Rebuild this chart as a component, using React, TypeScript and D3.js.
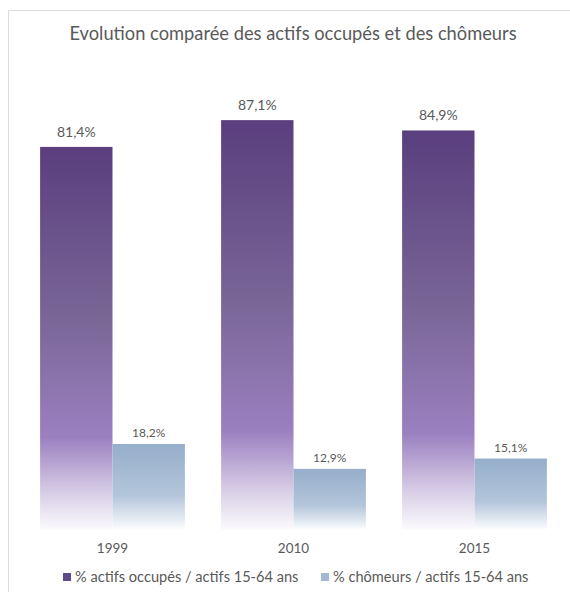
import React from "react";
import * as d3 from "d3";

const categories = ["1999", "2010", "2015"];
const seriesNames = ["% actifs occupés / actifs 15-64 ans", "% chômeurs / actifs 15-64 ans"];
const actifsOccupes = [81.4, 87.1, 84.9];
const chomeurs = [18.2, 12.9, 15.1];
const valueLabelsOccupes = ["81,4%", "87,1%", "84,9%"];
const valueLabelsChomeurs = ["18,2%", "12,9%", "15,1%"];
const title = "Evolution comparée des actifs occupés et des chômeurs";

const W = 570;
const H = 592;
const FONT = "Lato, 'Open Sans', sans-serif";
const TEXT = "#595959";

export default function App() {
  const x = d3.scaleBand<string>().domain(categories).range([22, 565]).paddingInner(0.2).paddingOuter(0.1);
  const xs = d3.scaleBand<number>().domain([0, 1]).range([0, x.bandwidth()]);
  const y = d3.scaleLinear().domain([0, 100]).range([529.5, 59.5]);
  const series = [actifsOccupes, chomeurs];
  const labels = [valueLabelsOccupes, valueLabelsChomeurs];
  const fills = ["url(#gPurple)", "url(#gBlue)"];
  const legendColors = ["#5f4a8b", "#a3b8d3"];

  return (
    <svg width={W} height={H} style={{ position: "absolute", left: 0, top: 0, fontFamily: FONT }}>
      <defs>
        <linearGradient id="gPurple" x1="0" y1="0" x2="0" y2="1">
          <stop offset="0" stopColor="#5a3e7e" />
          <stop offset="0.45" stopColor="#7a6697" />
          <stop offset="0.76" stopColor="#9b80c0" />
          <stop offset="0.9" stopColor="#d6cbe5" />
          <stop offset="1" stopColor="#fbfafd" />
        </linearGradient>
        <linearGradient id="gBlue" x1="0" y1="0" x2="0" y2="1">
          <stop offset="0" stopColor="#95aecb" />
          <stop offset="0.6" stopColor="#b3c5da" />
          <stop offset="0.85" stopColor="#dfe7f0" />
          <stop offset="1" stopColor="#fcfdfe" />
        </linearGradient>
      </defs>
      <rect x={0} y={0} width={W} height={H} fill="#fff" />
      <path d={`M8.5,${H} V10.5 H${W}`} fill="none" stroke="#dcdcdc" strokeWidth={1} />
      <text x={293} y={40} textAnchor="middle" fontSize={18.3} fill={TEXT}>{title}</text>
      {categories.map((c, i) => (
        <g key={c} transform={`translate(${x(c)},0)`}>
          {series.map((s, j) => (
            <g key={j}>
              <rect
                x={xs(j)}
                y={y(s[i])}
                width={xs.bandwidth()}
                height={y(0) - y(s[i])}
                fill={fills[j]}
              />
              <text
                x={(xs(j) as number) + xs.bandwidth() / 2}
                y={y(s[i]) - (j === 0 ? 10 : 7)}
                textAnchor="middle"
                fontSize={j === 0 ? 14 : 12}
                fill={TEXT}
              >
                {labels[j][i]}
              </text>
            </g>
          ))}
          <text x={x.bandwidth() / 2} y={553} textAnchor="middle" fontSize={13.5} fill={TEXT}>{c}</text>
        </g>
      ))}
      {seriesNames.map((n, j) => {
        const lx = j === 0 ? 63 : 321;
        return (
          <g key={n}>
            <rect x={lx} y={573} width={8} height={8} fill={legendColors[j]} />
            <text x={lx + 12} y={582} fontSize={14.6} fill={TEXT}>{n}</text>
          </g>
        );
      })}
    </svg>
  );
}
